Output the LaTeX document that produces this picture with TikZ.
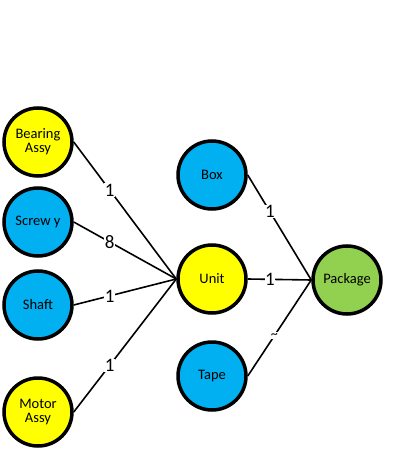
\documentclass[tikz,border=0pt]{standalone}
\usepackage{fontspec}
\setmainfont{Carlito}
\definecolor{cyel}{HTML}{FFFF00}
\definecolor{cblu}{HTML}{00B0F0}
\definecolor{cgrn}{HTML}{92D050}
\begin{document}
\begin{tikzpicture}[x=1pt,y=-1pt,
  part/.style={circle,draw=black,line width=3.5pt,minimum size=68pt,inner sep=0pt,align=center,font=\fontsize{14.5}{16}\selectfont},
  edge/.style={line width=1.6pt},
  qty/.style={fill=white,inner sep=0.5pt,font=\fontsize{19}{20}\selectfont,pos=0.35}]
\useasboundingbox (0,0) rectangle (404,449);
\node[part,fill=cyel] (bearing) at (38,142) {Bearing\\[-2pt]Assy};
\node[part,fill=cblu] (screw) at (38,222) {Screw y};
\node[part,fill=cblu] (shaft) at (38,305) {Shaft};
\node[part,fill=cyel] (motor) at (38,412) {Motor\\[-2pt]Assy};
\node[part,fill=cblu] (box) at (212,175) {Box};
\node[part,fill=cyel] (unit) at (212,279) {Unit};
\node[part,fill=cblu] (tape) at (212,376) {Tape};
\node[part,fill=cgrn] (package) at (347,280) {Package};
\draw[edge] (bearing.east) -- node[qty]{1} (unit.west);
\draw[edge] (screw.east) -- node[qty]{8} (unit.west);
\draw[edge] (shaft.east) -- node[qty]{1} (unit.west);
\draw[edge] (motor.east) -- node[qty]{1} (unit.west);
\draw[edge] (box.east) -- node[qty]{1} (package.west);
\draw[edge] (unit.east) -- node[qty]{1} (package.west);
\draw[edge] (tape.east) -- node[qty,pos=0.42,inner sep=1pt,font=\fontsize{14}{14}\selectfont]{\textasciitilde} (package.west);
\end{tikzpicture}
\end{document}
